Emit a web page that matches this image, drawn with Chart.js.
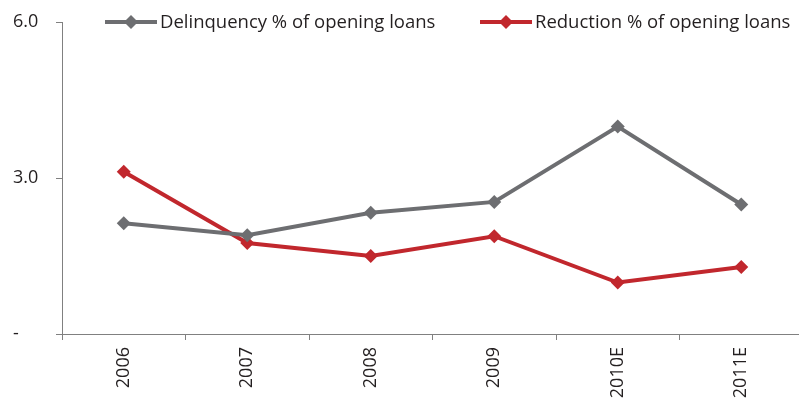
<!DOCTYPE html>
<html>
<head>
<meta charset="utf-8">
<script src="https://cdn.jsdelivr.net/npm/chart.js@4"></script>
<style>
  html, body { margin: 0; padding: 0; background: #fff; overflow: hidden; }
  /* the category axis runs slightly past the right edge of the page */
  #wrap { width: 803px; height: 403px; position: relative; }
</style>
</head>
<body>
<div id="wrap"><canvas id="c"></canvas></div>
<script>
// Loan book quality: delinquency vs. reduction, both as % of opening loans
const years = ['2006', '2007', '2008', '2009', '2010E', '2011E'];
const delinquency = [2.13, 1.90, 2.33, 2.54, 3.99, 2.49];
const reduction = [3.12, 1.75, 1.50, 1.88, 0.99, 1.29];
const seriesNames = ['Delinquency % of opening loans', 'Reduction % of opening loans'];
const yTickValues = [0, 3, 6];
const yTickLabels = ['-', '3.0', '6.0'];

const GREY = '#6d6e71';
const RED = '#c1272d';
const AXIS = '#808080';
const TEXT = '#231f20';
const FONT = '"Open Sans", "DejaVu Sans", sans-serif';
const FONT_SIZE = 18;

// Legend drawn as line + diamond sample, laid out on one row at the top
const lineLegend = {
  id: 'lineLegend',
  afterDraw(chart) {
    const ctx = chart.ctx;
    const y = chart.chartArea.top;
    const starts = [105, 480];
    ctx.save();
    chart.data.datasets.forEach((ds, i) => {
      const x0 = starts[i];
      ctx.strokeStyle = ds.borderColor;
      ctx.lineWidth = 4;
      ctx.beginPath();
      ctx.moveTo(x0, y);
      ctx.lineTo(x0 + 52, y);
      ctx.stroke();
      ctx.fillStyle = ds.borderColor;
      ctx.beginPath();
      const r = 7;
      ctx.moveTo(x0 + 26, y - r);
      ctx.lineTo(x0 + 26 + r, y);
      ctx.lineTo(x0 + 26, y + r);
      ctx.lineTo(x0 + 26 - r, y);
      ctx.closePath();
      ctx.fill();
      ctx.fillStyle = TEXT;
      ctx.font = '18.5px ' + FONT;
      ctx.textBaseline = 'middle';
      ctx.textAlign = 'left';
      ctx.fillText(ds.label, x0 + 55, y + 1);
    });
    ctx.restore();
  }
};

new Chart(document.getElementById('c'), {
  type: 'line',
  data: {
    labels: years,
    datasets: [
      {
        label: seriesNames[0],
        data: delinquency,
        borderColor: GREY,
        backgroundColor: GREY,
        borderWidth: 4,
        pointStyle: 'rectRot',
        pointRadius: 7,
        pointHoverRadius: 7,
        pointBorderWidth: 0,
        tension: 0
      },
      {
        label: seriesNames[1],
        data: reduction,
        borderColor: RED,
        backgroundColor: RED,
        borderWidth: 4,
        pointStyle: 'rectRot',
        pointRadius: 7,
        pointHoverRadius: 7,
        pointBorderWidth: 0,
        tension: 0
      }
    ]
  },
  options: {
    responsive: true,
    maintainAspectRatio: false,
    animation: false,
    layout: { autoPadding: false, padding: { top: 22, left: 13, right: 0, bottom: 0 } },
    plugins: {
      legend: { display: false },
      tooltip: { enabled: false }
    },
    scales: {
      x: {
        offset: true,
        grid: {
          display: true,
          drawOnChartArea: false,
          drawTicks: true,
          tickLength: 6,
          color: AXIS,
          offset: true
        },
        border: { display: true, color: AXIS, width: 1 },
        ticks: {
          color: TEXT,
          font: { family: FONT, size: FONT_SIZE },
          minRotation: 90,
          maxRotation: 90,
          padding: 7
        },
        afterFit(scale) {
          scale.height = 69;
          scale.paddingLeft = 0;
          scale.paddingRight = 0;
        }
      },
      y: {
        min: 0,
        max: 6,
        afterBuildTicks(scale) {
          scale.ticks = yTickValues.map(v => ({ value: v }));
        },
        grid: {
          display: true,
          drawOnChartArea: false,
          drawTicks: true,
          tickLength: 6,
          color: AXIS
        },
        border: { display: true, color: AXIS, width: 1 },
        ticks: {
          color: TEXT,
          font: { family: FONT, size: FONT_SIZE },
          crossAlign: 'far',
          callback(value) {
            const i = yTickValues.indexOf(value);
            return i >= 0 ? yTickLabels[i] : '';
          }
        },
        afterFit(scale) {
          scale.width = 49;
          scale.paddingTop = 0;
          scale.paddingBottom = 0;
        }
      }
    }
  },
  plugins: [lineLegend]
});
</script>
</body>
</html>
